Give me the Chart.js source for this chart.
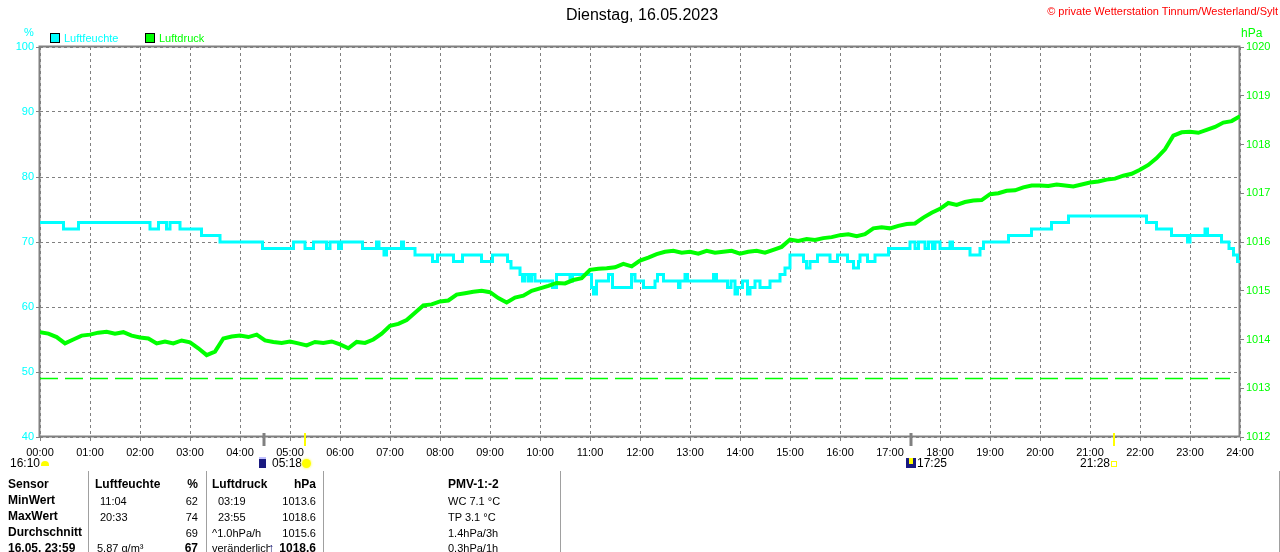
<!DOCTYPE html>
<html><head><meta charset="utf-8">
<script src="https://cdn.jsdelivr.net/npm/chart.js@4"></script>
<style>
html,body{margin:0;padding:0;background:#fff;overflow:hidden}
#wrap{position:relative;width:1280px;height:552px;font-family:"Liberation Sans",Arial,sans-serif;color:#000}
canvas{position:absolute;left:0;top:0}
.t{position:absolute;white-space:nowrap;font-size:11px;line-height:14px}
.b{font-weight:bold;font-size:12px}
.r{text-align:right}
.sep{position:absolute;width:1px;background:#a0a0a0}
.box{position:absolute;width:8px;height:8px;border:1px solid #000}
</style></head>
<body>
<div id="wrap">
<canvas id="c" width="1280" height="552"></canvas>
</div>
<script>
// ---------- DATA ----------
const titleText = "Dienstag, 16.05.2023";
const copyrightText = "© private Wetterstation Tinnum/Westerland/Sylt";
const seriesNames = ["Luftfeuchte", "Luftdruck"];
const xTickLabels = ["00:00","01:00","02:00","03:00","04:00","05:00","06:00","07:00","08:00","09:00","10:00","11:00","12:00",
  "13:00","14:00","15:00","16:00","17:00","18:00","19:00","20:00","21:00","22:00","23:00","24:00"];

// humidity (%) change points: time in hours, value holds until next point
const humT = [0,0.47,0.77,2.2,2.37,2.53,2.6,2.8,3.23,3.6,4.45,5.07,5.3,5.47,5.73,5.8,5.97,6.03,6.45,6.73,6.78,6.88,6.93,7.23,7.27,7.5,7.85,7.95,
  8.27,8.45,8.83,9.05,9.35,9.42,9.6,9.65,9.7,9.77,9.83,9.9,10.0,10.25,10.33,10.6,10.65,11.03,11.07,11.13,11.37,11.45,11.83,11.9,
  12.07,12.3,12.35,12.47,12.77,12.8,12.9,12.95,13.47,13.53,13.75,13.82,13.9,13.95,14.05,14.15,14.2,14.3,14.4,14.6,14.8,14.9,
  15.0,15.27,15.33,15.4,15.55,15.8,15.95,16.15,16.27,16.37,16.4,16.55,16.7,16.97,17.4,17.5,17.57,17.7,17.77,17.85,17.9,
  18.0,18.2,18.25,18.6,18.8,18.87,19.37,19.83,20.23,20.57,22.13,22.33,22.63,22.95,23.0,23.3,23.35,23.63,23.78,23.87,23.95,24];
const humV = [73,72,73,72,73,72,73,72,71,70,69,70,69,70,69,70,69,70,69,70,69,68,69,70,69,68,67,68,
  67,68,67,68,67,66,65,64,65,64,65,64,64,63,65,64,65,63,62,64,65,63,65,64,
  63,64,65,64,63,64,65,64,65,64,63,64,62,63,64,62,63,64,63,64,65,66,
  68,67,66,67,68,67,68,67,66,67,68,67,68,69,70,69,70,69,70,69,70,
  69,70,69,68,69,70,71,72,73,74,73,72,71,70,71,72,71,70,69,68,67,67];

// pressure (hPa) every 10 minutes from 00:00 to 24:00
const pressStepMinutes = 10;
const pressV = [
  1014.15,1014.12,1014.05,1013.92,1014.00,1014.08,
  1014.10,1014.14,1014.16,1014.12,1014.15,1014.08,
  1014.04,1014.02,1013.92,1013.96,1013.92,1013.98,
  1013.94,1013.82,1013.68,1013.75,1014.02,1014.06,
  1014.08,1014.05,1014.10,1013.98,1013.95,1013.93,
  1013.96,1013.92,1013.88,1013.95,1013.93,1013.96,
  1013.90,1013.82,1013.95,1013.93,1014.00,1014.12,
  1014.28,1014.32,1014.40,1014.55,1014.70,1014.72,
  1014.78,1014.80,1014.92,1014.95,1014.98,1015.00,
  1014.97,1014.85,1014.76,1014.86,1014.90,1015.00,
  1015.05,1015.10,1015.16,1015.15,1015.22,1015.26,
  1015.43,1015.45,1015.46,1015.48,1015.55,1015.50,
  1015.62,1015.68,1015.75,1015.80,1015.82,1015.78,
  1015.80,1015.76,1015.82,1015.78,1015.80,1015.82,
  1015.76,1015.80,1015.82,1015.78,1015.84,1015.90,
  1016.05,1016.02,1016.06,1016.04,1016.08,1016.10,
  1016.14,1016.16,1016.12,1016.16,1016.28,1016.30,
  1016.28,1016.33,1016.37,1016.38,1016.50,1016.60,
  1016.68,1016.80,1016.76,1016.82,1016.85,1016.86,
  1016.98,1017.00,1017.05,1017.06,1017.12,1017.16,
  1017.16,1017.15,1017.18,1017.16,1017.14,1017.18,
  1017.22,1017.24,1017.28,1017.30,1017.36,1017.40,
  1017.48,1017.58,1017.72,1017.90,1018.18,1018.25,
  1018.26,1018.24,1018.30,1018.36,1018.45,1018.48,
  1018.58];

// dashed reference level (hPa) and its time span
const refPressure = 1013.2;
const refSpan = [0, 23.8];

// axis ranges
const humRange = [40, 100, 10];
const pressRange = [1012, 1020, 1];

// sun / moon events (hours)
const moonEvents = [4.47, 17.42];
const sunEvents = [5.3, 21.47];

// ---------- CHART ----------
const FONT = '"Liberation Sans", Arial, sans-serif';
const humData = humT.map((t, i) => ({x: t, y: humV[i]}));
const pressData = pressV.map((v, i) => ({x: i * pressStepMinutes / 60, y: v}));
const refData = refSpan.map(t => ({x: t, y: refPressure}));

const framePlugin = {
  id: 'frame',
  beforeDatasetsDraw(chart) {
    const {ctx, chartArea: a} = chart;
    ctx.save();
    ctx.strokeStyle = '#808080';
    ctx.lineWidth = 2;
    ctx.strokeRect(a.left - 0.5, a.top - 0.5, a.right - a.left, a.bottom - a.top);
    ctx.restore();
  },
  afterDraw(chart) {
    const {ctx, chartArea: a} = chart;
    const xs = chart.scales.x;
    ctx.save();
    ctx.lineCap = 'butt';
    moonEvents.forEach(t => {
      const px = Math.round(xs.getPixelForValue(t));
      ctx.strokeStyle = '#808080'; ctx.lineWidth = 3;
      ctx.beginPath(); ctx.moveTo(px, a.bottom - 4); ctx.lineTo(px, a.bottom + 9); ctx.stroke();
    });
    sunEvents.forEach(t => {
      const px = Math.round(xs.getPixelForValue(t));
      ctx.strokeStyle = '#ffff00'; ctx.lineWidth = 2;
      ctx.beginPath(); ctx.moveTo(px, a.bottom - 4); ctx.lineTo(px, a.bottom + 9); ctx.stroke();
    });
    ctx.restore();
  }
};

new Chart(document.getElementById('c'), {
  type: 'line',
  data: {
    datasets: [
      {label: seriesNames[0], data: humData, yAxisID: 'yH', borderColor: '#00ffff', backgroundColor: '#00ffff',
       borderWidth: 3, stepped: 'before', pointRadius: 0, fill: false, order: 2},
      {label: seriesNames[1], data: pressData, yAxisID: 'yP', borderColor: '#00ff00', backgroundColor: '#00ff00',
       borderWidth: 4, pointRadius: 0, fill: false, tension: 0, order: 1},
      {label: 'ref', data: refData, yAxisID: 'yP', borderColor: '#00ff00', borderWidth: 1.5,
       borderDash: [18, 7], pointRadius: 0, fill: false, order: 3}
    ]
  },
  options: {
    responsive: false, animation: false, devicePixelRatio: 1,
    layout: {padding: {top: 47, left: 0, right: 0, bottom: 0}},
    plugins: {legend: {display: false}, title: {display: false}, tooltip: {enabled: false}},
    scales: {
      x: {
        type: 'linear', position: 'bottom', min: 0, max: 24,
        afterFit(s) { s.height = 115; },
        ticks: {stepSize: 1, autoSkip: false, maxRotation: 0, maxTicksLimit: 30, color: '#000',
                font: {size: 11, family: FONT}, padding: 5, callback: v => xTickLabels[v]},
        grid: {color: '#808080', lineWidth: 1, tickLength: 4, tickColor: '#808080', tickWidth: 1, tickBorderDash: []},
        border: {display: false, dash: [3, 3]}
      },
      yH: {
        type: 'linear', position: 'left', min: humRange[0], max: humRange[1],
        afterFit(s) { s.width = 40; },
        ticks: {stepSize: humRange[2], color: '#00ffff', font: {size: 11, family: FONT}, padding: 2,
                callback: v => String(v)},
        grid: {color: '#808080', lineWidth: 1, tickLength: 4, tickColor: '#808080', tickBorderDash: []},
        border: {display: false, dash: [3, 3]}
      },
      yP: {
        type: 'linear', position: 'right', min: pressRange[0], max: pressRange[1],
        afterFit(s) { s.width = 40; },
        ticks: {stepSize: pressRange[2], color: '#00ff00', font: {size: 11, family: FONT}, padding: 2,
                callback: v => String(v)},
        grid: {drawOnChartArea: false, tickLength: 4, tickColor: '#808080', tickBorderDash: []},
        border: {display: false}
      }
    }
  },
  plugins: [framePlugin]
});

// ---------- TEXT OVERLAYS ----------
const wrap = document.getElementById('wrap');
function txt(s, x, y, cls, style) {
  const d = document.createElement('div');
  d.className = 't ' + (cls || '');
  d.textContent = s;
  d.style.left = x + 'px'; d.style.top = y + 'px';
  if (style) Object.assign(d.style, style);
  wrap.appendChild(d);
  return d;
}
function rtxt(s, xr, y, cls, style) {
  return txt(s, xr - 200, y, 'r ' + (cls || ''), Object.assign({width: '200px'}, style || {}));
}
function el(cls, x, y, w, h, style) {
  const d = document.createElement('div');
  d.className = cls;
  d.style.left = x + 'px'; d.style.top = y + 'px';
  if (w != null) d.style.width = w + 'px';
  if (h != null) d.style.height = h + 'px';
  if (style) Object.assign(d.style, style);
  wrap.appendChild(d);
  return d;
}

// title & copyright
txt(titleText, 0, 5, '', {width: '1284px', textAlign: 'center', fontSize: '16px', lineHeight: '20px'});
rtxt(copyrightText, 1278, 4, '', {color: '#ff0000', fontSize: '11px', width: '400px', left: '878px'});

// axis units
txt('%', 24, 25, '', {color: '#00ffff'});
txt('hPa', 1241, 26, '', {color: '#00ff00', fontSize: '12px'});

// legend
el('box', 50, 33, null, null, {background: '#00ffff'});
txt(seriesNames[0], 64, 31, '', {color: '#00ffff'});
el('box', 145, 33, null, null, {background: '#00ff00'});
txt(seriesNames[1], 159, 31, '', {color: '#00ff00'});

// sun / moon row
txt('16:10', 10, 456, '', {fontSize: '12px'});
el('', 41, 461, 8, 5, {position: 'absolute', background: '#ffff00', borderRadius: '4px 4px 0 0'});
el('', 259, 457, 7, 11, {position: 'absolute', background: '#1a1a80', borderTop: '2px solid #c0c0ff', boxSizing: 'border-box'});
txt('05:18', 272, 456, '', {fontSize: '12px'});
el('', 302, 459, 9, 9, {position: 'absolute', background: '#ffff00', borderRadius: '50%', boxShadow: '0 0 2px 1px #ffffa0'});
el('', 906, 458, 10, 10, {position: 'absolute', background: '#1a1a80'});
el('', 909, 458, 4, 6, {position: 'absolute', background: '#ffff00'});
txt('17:25', 917, 456, '', {fontSize: '12px'});
txt('21:28', 1080, 456, '', {fontSize: '12px'});
el('', 1111, 461, 4, 4, {position: 'absolute', border: '1px solid #ffff00'});

// table separators
el('sep', 88, 471, null, 81);
el('sep', 206, 471, null, 81);
el('sep', 323, 471, null, 81);
el('sep', 560, 471, null, 81);
el('sep', 1279, 471, null, 81);

// table rows
const rowY = [477, 493, 509, 525, 541];
txt('Sensor', 8, rowY[0], 'b'); txt('Luftfeuchte', 95, rowY[0], 'b'); rtxt('%', 198, rowY[0], 'b');
txt('Luftdruck', 212, rowY[0], 'b'); rtxt('hPa', 316, rowY[0], 'b'); txt('PMV-1:-2', 448, rowY[0], 'b');

txt('MinWert', 8, rowY[1], 'b'); txt('11:04', 100, rowY[1] + 1); rtxt('62', 198, rowY[1] + 1);
txt('03:19', 218, rowY[1] + 1); rtxt('1013.6', 316, rowY[1] + 1); txt('WC 7.1 °C', 448, rowY[1] + 1);

txt('MaxWert', 8, rowY[2], 'b'); txt('20:33', 100, rowY[2] + 1); rtxt('74', 198, rowY[2] + 1);
txt('23:55', 218, rowY[2] + 1); rtxt('1018.6', 316, rowY[2] + 1); txt('TP 3.1 °C', 448, rowY[2] + 1);

txt('Durchschnitt', 8, rowY[3], 'b'); rtxt('69', 198, rowY[3] + 1);
txt('^1.0hPa/h', 212, rowY[3] + 1); rtxt('1015.6', 316, rowY[3] + 1); txt('1.4hPa/3h', 448, rowY[3] + 1);

txt('16.05. 23:59', 8, rowY[4], 'b'); txt('5.87 g/m³', 97, rowY[4]); rtxt('67', 198, rowY[4], 'b');
txt('veränderlich', 212, rowY[4], '', {width: '58px', overflow: 'hidden'});
txt('↑', 268, rowY[4], 'b', {color: '#000060'});
rtxt('1018.6', 316, rowY[4], 'b'); txt('0.3hPa/1h', 448, rowY[4]);
</script>
</body></html>
